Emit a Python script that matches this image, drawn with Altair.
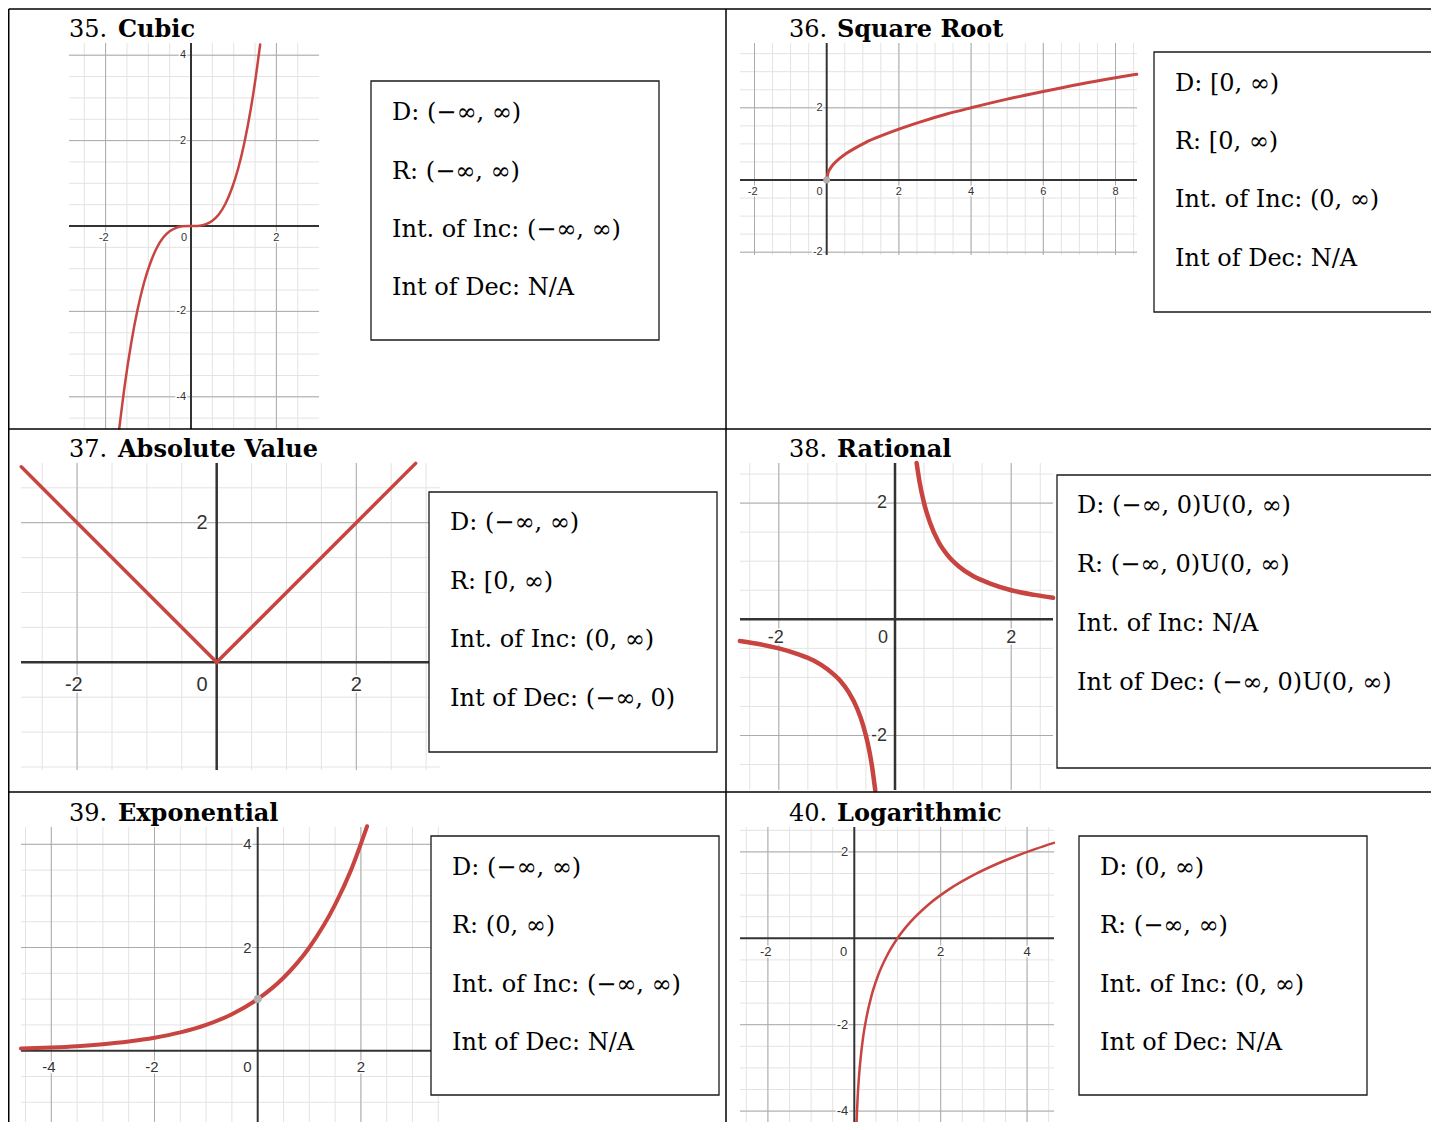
import altair as alt
import numpy as np
import pandas as pd

OFF = 8          # page margin of the output page
W, H = 1423, 1114

# ---------------- values ----------------
cubic_x = [-1.68, -1.55, -1.40, -1.25, -1.10, -0.95, -0.80, -0.65, -0.50, -0.35, -0.20, 0.00,
           0.20, 0.35, 0.50, 0.65, 0.80, 0.95, 1.10, 1.25, 1.40, 1.52, 1.62]
cubic_y = [-4.74, -3.72, -2.74, -1.95, -1.33, -0.86, -0.51, -0.27, -0.125, -0.043, -0.008, 0.0,
           0.008, 0.043, 0.125, 0.27, 0.51, 0.86, 1.33, 1.95, 2.74, 3.51, 4.25]
sqrt_x = [0, 0.03, 0.1, 0.2, 0.35, 0.55, 0.8, 1.1, 1.5, 2, 2.6, 3.3, 4, 5, 6, 7, 8, 8.59]
sqrt_y = [0, 0.17, 0.32, 0.45, 0.59, 0.74, 0.89, 1.05, 1.22, 1.41, 1.61, 1.82, 2.0, 2.24, 2.45, 2.65, 2.83, 2.93]
abs_x = [-2.80, 0.0, 2.85]
abs_y = [2.80, 0.0, 2.85]
rat_pos_x = [0.372, 0.42, 0.5, 0.6, 0.75, 0.9, 1.1, 1.35, 1.65, 2.0, 2.4, 2.72]
rat_pos_y = [2.69, 2.38, 2.0, 1.67, 1.33, 1.11, 0.91, 0.74, 0.61, 0.5, 0.42, 0.37]
rat_neg_x = [-2.67, -2.3, -2.0, -1.7, -1.4, -1.15, -0.95, -0.8, -0.65, -0.55, -0.47, -0.4, -0.34]
rat_neg_y = [-0.375, -0.435, -0.5, -0.59, -0.71, -0.87, -1.05, -1.25, -1.54, -1.82, -2.13, -2.5, -2.94]
exp_x = [-4.59, -4, -3.5, -3, -2.5, -2, -1.5, -1, -0.5, 0, 0.5, 1, 1.5, 1.8, 2.12]
exp_y = [0.042, 0.0625, 0.088, 0.125, 0.177, 0.25, 0.354, 0.5, 0.707, 1.0, 1.414, 2.0, 2.83, 3.48, 4.35]
log_x = [0.046, 0.06, 0.08, 0.11, 0.15, 0.2, 0.28, 0.4, 0.55, 0.75, 1.0, 1.3, 1.7, 2.2, 2.8, 3.5, 4.2, 4.62]
log_y = [-4.44, -4.06, -3.64, -3.18, -2.74, -2.32, -1.84, -1.32, -0.86, -0.415, 0.0, 0.379, 0.766,
         1.138, 1.485, 1.807, 2.07, 2.21]

# marked points
sqrt_pt = [(0, 0)]
exp_pt = [(0, 1)]

# tick labels
xt35, yt35 = [-2, 2], [4, 2, -2, -4]
xt36, yt36 = [-2, 2, 4, 6, 8], [2, -2]
xt37, yt37 = [-2, 2], [2]
xt38, yt38 = [-2, 2], [2, -2]
xt39, yt39 = [-4, -2, 2], [4, 2]
xt40, yt40 = [-2, 2, 4], [2, -2, -4]

# titles
nums = ["35.", "36.", "37.", "38.", "39.", "40."]
names = ["Cubic", "Square Root", "Absolute Value", "Rational", "Exponential", "Logarithmic"]

# box texts
box_text = [
    ["D: (−∞, ∞)", "R: (−∞, ∞)", "Int. of Inc: (−∞, ∞)", "Int of Dec: N/A"],
    ["D: [0, ∞)", "R: [0, ∞)", "Int. of Inc: (0, ∞)", "Int of Dec: N/A"],
    ["D: (−∞, ∞)", "R: [0, ∞)", "Int. of Inc: (0, ∞)", "Int of Dec: (−∞, 0)"],
    ["D: (−∞, 0)U(0, ∞)", "R: (−∞, 0)U(0, ∞)", "Int. of Inc: N/A", "Int of Dec: (−∞, 0)U(0, ∞)"],
    ["D: (−∞, ∞)", "R: (0, ∞)", "Int. of Inc: (−∞, ∞)", "Int of Dec: N/A"],
    ["D: (0, ∞)", "R: (−∞, ∞)", "Int. of Inc: (0, ∞)", "Int of Dec: N/A"],
]

# ---------------- layout / style (page pixels) ----------------
RED = "#c74440"
geo = [
    dict(ox=191.0, oy=226.0, u=42.7, left=69, right=319, top=43, bottom=429,
         fs=11, ldy=12, zdx=-4, ydx=-5, lw=2.5, aw=2, interp="monotone"),
    dict(ox=826.7, oy=180.0, u=36.1, left=740, right=1137, top=43, bottom=255,
         fs=11, ldy=12, zdx=-4, ydx=-4, lw=3, aw=2, interp="monotone"),
    dict(ox=216.7, oy=662.3, u=69.8, left=21, right=440, top=463, bottom=770,
         fs=20, ldy=23, zdx=-9, ydx=-9, lw=3.5, aw=2.5, interp="linear"),
    dict(ox=895.0, oy=619.3, u=58.1, left=740, right=1053, top=463, bottom=790,
         fs=18, ldy=19, zdx=-7, ydx=-8, lw=4.5, aw=2.5, interp="monotone"),
    dict(ox=257.7, oy=1050.7, u=51.6, left=21, right=440, top=827, bottom=1130,
         fs=15, ldy=16, zdx=-6, ydx=-6, lw=4, aw=2, interp="monotone"),
    dict(ox=854.3, oy=938.3, u=43.2, left=740, right=1054, top=827, bottom=1130,
         fs=13, ldy=13.5, zdx=-7, ydx=-6, lw=2.5, aw=2, interp="monotone"),
]
title_pos = [(69, 37, 118), (789, 37, 837), (69, 457, 118), (789, 457, 837), (69, 821, 118), (789, 821, 837)]
boxes = [  # x0, x1, y0, y1
    (371, 659, 81, 340), (1154, 1450, 52, 312), (429, 717, 492, 752),
    (1057, 1450, 475, 768), (431, 719, 836, 1095), (1079, 1367, 836, 1095),
]
box_tx = [392, 1175, 450, 1077, 452, 1100]
box_base = [
    [120, 179, 237, 295], [91, 149, 207, 266], [530, 589, 647, 706],
    [513, 572, 631, 690], [875, 933, 992, 1050], [875, 933, 992, 1050],
]
table_lines = [  # x0, y0, x1, y1
    (8.75, 9, 1450, 9), (8.75, 9, 8.75, 1140), (726, 9, 726, 1140),
    (8, 429, 1450, 429), (8, 792, 1450, 792),
]

curves = [
    [(cubic_x, cubic_y)],
    [(sqrt_x, sqrt_y)],
    [(abs_x, abs_y)],
    [(rat_pos_x, rat_pos_y), (rat_neg_x, rat_neg_y)],
    [(exp_x, exp_y)],
    [(log_x, log_y)],
]
points = [[], sqrt_pt, [], [], exp_pt, []]
ticks = [(xt35, yt35), (xt36, yt36), (xt37, yt37), (xt38, yt38), (xt39, yt39), (xt40, yt40)]


def panel_layers(g, crv, pts, xt, yt):
    u = g["u"]
    xmin = (g["left"] - g["ox"]) / u
    xmax = (g["right"] - g["ox"]) / u
    ymax = (g["oy"] - g["top"]) / u
    ymin = (g["oy"] - g["bottom"]) / u
    xs = alt.Scale(domain=[xmin, xmax], range=[g["left"] - OFF, g["right"] - OFF], nice=False, zero=False)
    ys = alt.Scale(domain=[ymin, ymax], range=[g["bottom"] - OFF, g["top"] - OFF], nice=False, zero=False)

    def seg(df, color, width):
        return alt.Chart(df).mark_rule(color=color, strokeWidth=width).encode(
            x=alt.X("x0:Q", scale=xs, axis=None), x2="x1:Q",
            y=alt.Y("y0:Q", scale=ys, axis=None), y2="y1:Q")

    gx = [k * 0.5 for k in range(int(np.ceil(xmin * 2)), int(np.floor(xmax * 2)) + 1)]
    gy = [k * 0.5 for k in range(int(np.ceil(ymin * 2)), int(np.floor(ymax * 2)) + 1)]
    minor, major = [], []
    for v in gx:
        row = dict(x0=v, x1=v, y0=ymin, y1=ymax)
        minor.append(row)
        if round(v * 2) % 4 == 0 and v != 0:
            major.append(row)
    for v in gy:
        row = dict(x0=xmin, x1=xmax, y0=v, y1=v)
        minor.append(row)
        if round(v * 2) % 4 == 0 and v != 0:
            major.append(row)
    axes = [dict(x0=0, x1=0, y0=ymin, y1=ymax), dict(x0=xmin, x1=xmax, y0=0, y1=0)]

    layers = [
        seg(pd.DataFrame(minor), "#e3e3e3", 1),
        seg(pd.DataFrame(major), "#ababab", 1),
        seg(pd.DataFrame(axes), "#333333", g["aw"]),
    ]

    crows = []
    for bi, (cx, cy) in enumerate(crv):
        for a, b in zip(cx, cy):
            crows.append(dict(x=a, y=b, br=bi))
    layers.append(
        alt.Chart(pd.DataFrame(crows)).mark_line(color=RED, strokeWidth=g["lw"], interpolate=g["interp"],
                                                  strokeCap="round").encode(
            x=alt.X("x:Q", scale=xs, axis=None), y=alt.Y("y:Q", scale=ys, axis=None),
            detail="br:N"))
    if pts:
        layers.append(
            alt.Chart(pd.DataFrame([dict(x=a, y=b) for a, b in pts])).mark_circle(
                color="#b0b0b0", opacity=1, size=g["lw"] * 16).encode(
                x=alt.X("x:Q", scale=xs, axis=None), y=alt.Y("y:Q", scale=ys, axis=None)))

    fs = g["fs"]
    xl = pd.DataFrame(dict(x=xt, y=[0] * len(xt), t=[str(v) for v in xt]))
    zl = pd.DataFrame(dict(x=[0], y=[0], t=["0"]))
    yl = pd.DataFrame(dict(x=[0] * len(yt), y=yt, t=[str(v) for v in yt]))
    specs = [
        (xl, dict(align="right", baseline="middle", dx=0.28 * fs, dy=g["ldy"])),
        (zl, dict(align="right", baseline="middle", dx=g["zdx"], dy=g["ldy"])),
        (yl, dict(align="right", baseline="middle", dx=g["ydx"], dy=0)),
    ]
    for df, kw in specs:
        for halo in (True, False):
            if halo:
                mk = alt.Chart(df).mark_text(font="Liberation Sans", fontSize=fs, color="white",
                                             stroke="white", strokeWidth=3, **kw)
            else:
                mk = alt.Chart(df).mark_text(font="Liberation Sans", fontSize=fs, color="#333333", **kw)
            layers.append(mk.encode(x=alt.X("x:Q", scale=xs, axis=None),
                                    y=alt.Y("y:Q", scale=ys, axis=None), text="t:N"))
    return layers


layers = []
for i in range(6):
    layers += panel_layers(geo[i], curves[i], points[i], ticks[i][0], ticks[i][1])

# text boxes
box_df = pd.DataFrame([dict(x0=a - OFF, x1=b - OFF, y0=c - OFF, y1=d - OFF) for a, b, c, d in boxes])
layers.append(alt.Chart(box_df).mark_rect(fill="white", stroke="#1a1a1a", strokeWidth=1.3).encode(
    x=alt.X("x0:Q", scale=None, axis=None), x2="x1:Q",
    y=alt.Y("y0:Q", scale=None, axis=None), y2="y1:Q"))

trows = []
for i in range(6):
    for j, t in enumerate(box_text[i]):
        trows.append(dict(x=box_tx[i] - OFF, y=box_base[i][j] - OFF, t=t))
layers.append(alt.Chart(pd.DataFrame(trows)).mark_text(
    align="left", baseline="alphabetic", font="DejaVu Serif", fontSize=24, color="black").encode(
    x=alt.X("x:Q", scale=None, axis=None), y=alt.Y("y:Q", scale=None, axis=None), text="t:N"))

# titles
n_df = pd.DataFrame([dict(x=p[0] - OFF, y=p[1] - OFF, t=nums[i]) for i, p in enumerate(title_pos)])
b_df = pd.DataFrame([dict(x=p[2] - OFF, y=p[1] - OFF, t=names[i]) for i, p in enumerate(title_pos)])
layers.append(alt.Chart(n_df).mark_text(
    align="left", baseline="alphabetic", font="DejaVu Serif", fontSize=24, color="black").encode(
    x=alt.X("x:Q", scale=None, axis=None), y=alt.Y("y:Q", scale=None, axis=None), text="t:N"))
layers.append(alt.Chart(b_df).mark_text(
    align="left", baseline="alphabetic", font="DejaVu Serif", fontSize=24, fontWeight="bold",
    color="black").encode(
    x=alt.X("x:Q", scale=None, axis=None), y=alt.Y("y:Q", scale=None, axis=None), text="t:N"))

# table rules
tl_df = pd.DataFrame([dict(x0=a - OFF, y0=b - OFF, x1=c - OFF, y1=d - OFF) for a, b, c, d in table_lines])
layers.append(alt.Chart(tl_df).mark_rule(color="black", strokeWidth=1.5).encode(
    x=alt.X("x0:Q", scale=None, axis=None), x2="x1:Q",
    y=alt.Y("y0:Q", scale=None, axis=None), y2="y1:Q"))

chart = alt.layer(*layers).resolve_scale(x="independent", y="independent").properties(
    width=W, height=H, autosize="none", padding=0
).configure_view(stroke=None)

chart.save("out.html", embed_options={"renderer": "svg", "actions": False})
